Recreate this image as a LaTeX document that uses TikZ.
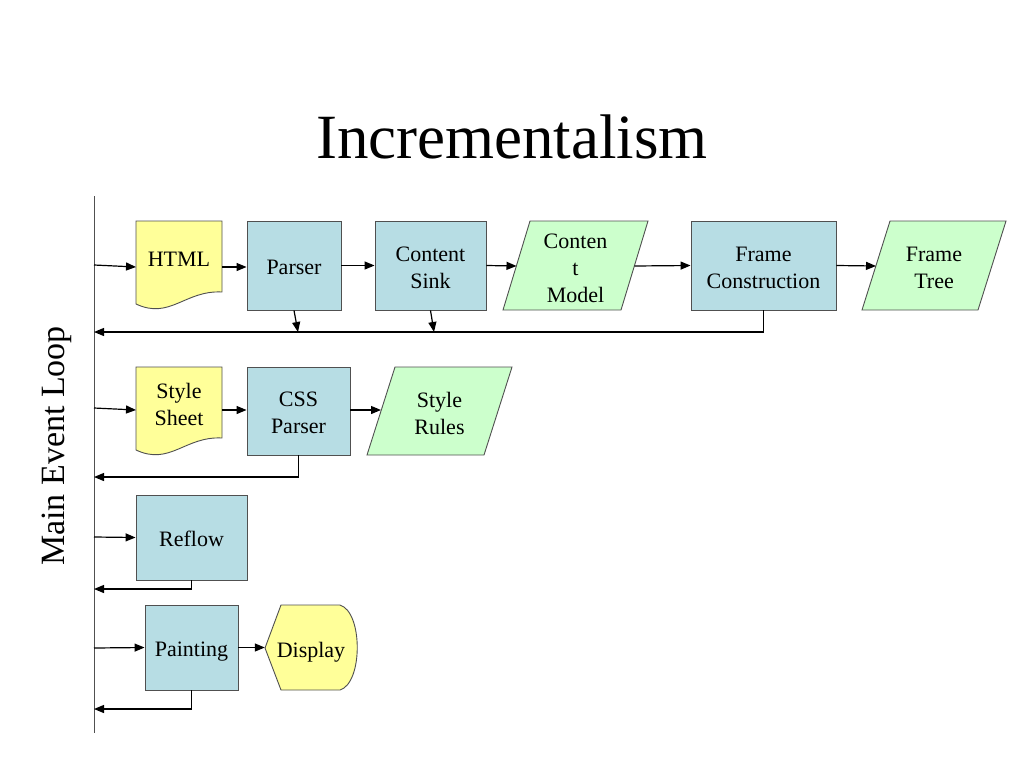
\documentclass[tikz,border=0pt]{standalone}
\usepackage{fontspec}
\setmainfont{Liberation Serif}
\usetikzlibrary{arrows.meta}
\definecolor{boxblue}{RGB}{183,221,228}
\definecolor{docyellow}{RGB}{255,255,153}
\definecolor{datagreen}{RGB}{204,255,204}
\definecolor{edgegray}{RGB}{80,80,80}
\begin{document}
\begin{tikzpicture}[x=1pt,y=-1pt,
  txt/.style={align=center,font=\fontsize{22}{27}\selectfont,inner sep=0pt},
  procbox/.style={draw=edgegray,line width=0.9pt,fill=boxblue,inner sep=0pt},
  ghost/.style={inner sep=0pt},
  shapeline/.style={draw=edgegray,line width=0.9pt},
  arr/.style={draw=black,line width=1.2pt,-{Triangle[length=10pt,width=8pt]}},
  ret/.style={draw=black,line width=1.2pt,-{Triangle[length=10pt,width=8pt]}}
]
\useasboundingbox (0,0) rectangle (1024,768);

% title and loop
\node[font=\fontsize{63}{70}\selectfont,inner sep=0pt] (title) at (512,137) {Incrementalism};
\draw[draw=edgegray,line width=1pt] (94,196) -- (94,733);
\node[font=\fontsize{34}{40}\selectfont,rotate=90,inner sep=0pt] (loop) at (57,446) {Main Event Loop};

% ---- row 1 ----
\node[ghost,minimum width=86pt,minimum height=84pt] (html) at (179,267) {};
\draw[shapeline,fill=docyellow] (136,221) -- (222,221) -- (222,292)
  .. controls (185,290) and (170,320) .. (136,304) -- cycle;
\node[txt] (htmlt) at (179,259) {HTML};

\node[procbox,minimum width=94pt,minimum height=89pt] (parser) at (294,265.5) {};
\node[txt] (parsert) at (294,267.5) {Parser};
\node[procbox,minimum width=111pt,minimum height=89pt] (sink) at (430.5,265.5) {};
\node[txt] (sinkt) at (430.5,268) {Content\\Sink};

\node[ghost,minimum width=145pt,minimum height=89pt] (cm) at (575.5,265.5) {};
\draw[shapeline,fill=datagreen] (530,221) -- (648,221) -- (621,310) -- (503,310) -- cycle;
\node[txt] (cmt) at (575.5,268) {Conten\\t\\Model};
\coordinate (cmin) at (516.5,266);
\coordinate (cmout) at (634.5,266);

\node[procbox,minimum width=145pt,minimum height=89pt] (fc) at (763.5,265.5) {};
\node[txt] (fct) at (763.5,267.5) {Frame\\Construction};

\node[ghost,minimum width=144pt,minimum height=89pt] (ft) at (934,265.5) {};
\draw[shapeline,fill=datagreen] (890,221) -- (1006,221) -- (978,310) -- (862,310) -- cycle;
\node[txt] (ftt) at (934,267.5) {Frame\\Tree};
\coordinate (ftin) at (876,266);

\coordinate (l1) at (94,265);
\draw[arr] (l1) -- (136,267);
\draw[arr] (222,267) -- (parser.west |- 0,267);
\draw[arr] (parser.east) -- (sink.west);
\draw[arr] (sink.east) -- (cmin);
\draw[arr] (cmout) -- (fc.west);
\draw[arr] (fc.east) -- (ftin);

\coordinate (r1) at (94,332);
\coordinate (p1) at (298,332);
\coordinate (s1) at (434,332);
\draw[ret] (fc.south) |- (r1);
\draw[arr] (parser.south) -- (p1);
\draw[arr] (sink.south) -- (s1);

% ---- row 2 ----
\node[ghost,minimum width=86pt,minimum height=84pt] (ss) at (179,410) {};
\draw[shapeline,fill=docyellow] (136,367) -- (222,367) -- (222,438)
  .. controls (185,436) and (170,466) .. (136,450) -- cycle;
\node[txt] (sst) at (179,404) {Style\\Sheet};

\node[procbox,minimum width=103pt,minimum height=88pt] (css) at (298.5,411) {};
\node[txt] (csst) at (298.5,413) {CSS\\Parser};

\node[ghost,minimum width=145pt,minimum height=88pt] (sr) at (439.5,411) {};
\draw[shapeline,fill=datagreen] (395,367) -- (512,367) -- (484,455) -- (367,455) -- cycle;
\node[txt] (srt) at (439.5,413) {Style\\Rules};
\coordinate (srin) at (381,410);

\coordinate (l2) at (94,408);
\draw[arr] (l2) -- (136,410);
\draw[arr] (222,410) -- (css.west |- 0,410);
\draw[arr] (css.east |- 0,410) -- (srin);
\coordinate (r2) at (94,477);
\draw[ret] (css.south) |- (r2);

% ---- row 3 ----
\node[procbox,minimum width=111pt,minimum height=85pt] (reflow) at (191.5,537.5) {};
\node[txt] (reflowt) at (191.5,539) {Reflow};
\coordinate (l3) at (94,537);
\draw[arr] (l3) -- (reflow.west);
\coordinate (r3) at (94,589);
\draw[ret] (reflow.south) |- (r3);

% ---- row 4 ----
\node[procbox,minimum width=93pt,minimum height=85pt] (paint) at (191.5,647.5) {};
\node[txt] (paintt) at (191.5,652) {Painting};
\node[ghost,minimum width=93pt,minimum height=85pt] (disp) at (311.5,647.5) {};
\draw[shapeline,fill=docyellow] (265,648) -- (281,605) -- (340,605)
  .. controls (363,612) and (363,683) .. (340,690) -- (281,690) -- cycle;
\node[txt] (dispt) at (311,652) {Display};
\coordinate (l4) at (94,648);
\draw[arr] (l4) -- (paint.west);
\draw[arr] (paint.east) -- (disp.west);
\coordinate (r4) at (94,709);
\draw[ret] (paint.south) |- (r4);
\end{tikzpicture}
\end{document}
